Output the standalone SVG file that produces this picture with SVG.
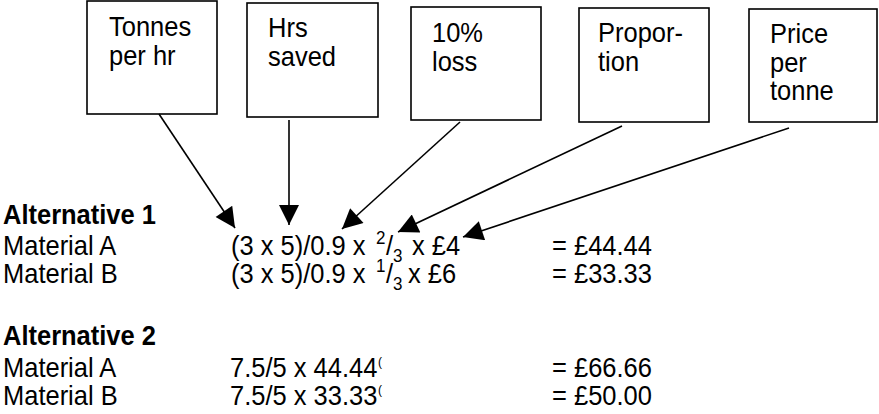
<svg xmlns="http://www.w3.org/2000/svg" width="879" height="414" viewBox="0 0 879 414">
<style>
  text { font-family: "Liberation Sans", Arial, sans-serif; font-size: 25.5px; fill: #000; }
  .b { font-weight: bold; }
  .sm { font-size: 17px; }
  .tiny { font-size: 12px; }
  .box { fill: #fff; stroke: #000; stroke-width: 1.6; }
  .c line { stroke: #000; stroke-width: 1.6; }
</style>
<defs>
  <marker id="ah" viewBox="0 0 10 10" refX="10" refY="5" markerWidth="25" markerHeight="20" markerUnits="userSpaceOnUse" orient="auto">
    <path d="M0,0 L10,5 L0,10 Z" fill="#000"/>
  </marker>
</defs>
<rect width="879" height="414" fill="#fff"/>

<g id="box-tonnes">
  <rect class="box" x="87" y="1" width="130" height="113"/>
  <text transform="matrix(1,0,0,1.08,109,36)">Tonnes</text>
  <text transform="matrix(1,0,0,1.08,109,65)">per hr</text>
</g>
<g id="box-hrs">
  <rect class="box" x="247" y="3" width="131" height="114"/>
  <text transform="matrix(1,0,0,1.08,268,37)">Hrs</text>
  <text transform="matrix(1,0,0,1.08,268,66)">saved</text>
</g>
<g id="box-loss">
  <rect class="box" x="411" y="7" width="130" height="113"/>
  <text transform="matrix(1,0,0,1.08,432,42)">10%</text>
  <text transform="matrix(1,0,0,1.08,432,71)">loss</text>
</g>
<g id="box-proportion">
  <rect class="box" x="579" y="8" width="130" height="114"/>
  <text transform="matrix(1,0,0,1.08,598,42)">Propor-</text>
  <text transform="matrix(1,0,0,1.08,598,71)">tion</text>
</g>
<g id="box-price">
  <rect class="box" x="749" y="9" width="128" height="113"/>
  <text transform="matrix(1,0,0,1.08,770,43)">Price</text>
  <text transform="matrix(1,0,0,1.08,770,72)">per</text>
  <text transform="matrix(1,0,0,1.08,770,100)">tonne</text>
</g>

<g class="c" id="connectors">
  <line x1="159" y1="114" x2="235" y2="228" marker-end="url(#ah)"/>
  <line x1="289" y1="120" x2="289" y2="225" marker-end="url(#ah)"/>
  <line x1="460" y1="122" x2="342" y2="229" marker-end="url(#ah)"/>
  <line x1="622" y1="126" x2="398" y2="232" marker-end="url(#ah)"/>
  <line x1="789" y1="128" x2="463" y2="237" marker-end="url(#ah)"/>
</g>

<g id="alternative-1">
  <text class="b" transform="matrix(1,0,0,1.08,3,224)">Alternative 1</text>
  <text transform="matrix(1,0,0,1.08,3,255)">Material A</text>
  <text transform="matrix(1,0,0,1.08,3,283)">Material B</text>
  <text transform="matrix(1,0,0,1.08,231,255)">(3 x 5)/0.9 x</text>
  <text class="sm" transform="matrix(1,0,0,1.08,376,244)">2</text>
  <text transform="matrix(1,0,0,1.08,386,255)">/</text>
  <text class="sm" transform="matrix(1,0,0,1.08,393,262)">3</text>
  <text transform="matrix(1,0,0,1.08,412,255)">x £4</text>
  <text transform="matrix(1,0,0,1.08,231,283)">(3 x 5)/0.9 x</text>
  <text class="sm" transform="matrix(1,0,0,1.08,376,272)">1</text>
  <text transform="matrix(1,0,0,1.08,386,283)">/</text>
  <text class="sm" transform="matrix(1,0,0,1.08,393,290)">3</text>
  <text transform="matrix(1,0,0,1.08,408,283)">x £6</text>
  <text transform="matrix(1,0,0,1.08,552,255)">= £44.44</text>
  <text transform="matrix(1,0,0,1.08,552,283)">= £33.33</text>
</g>

<g id="alternative-2">
  <text class="b" transform="matrix(1,0,0,1.08,3,345)">Alternative 2</text>
  <text transform="matrix(1,0,0,1.08,3,377)">Material A</text>
  <text transform="matrix(1,0,0,1.08,3,405)">Material B</text>
  <text transform="matrix(1,0,0,1.08,230,377)">7.5/5 x 44.44</text>
  <text class="tiny" transform="matrix(1,0,0,1.08,378,366)">(</text>
  <text transform="matrix(1,0,0,1.08,230,405)">7.5/5 x 33.33</text>
  <text class="tiny" transform="matrix(1,0,0,1.08,378,394)">(</text>
  <text transform="matrix(1,0,0,1.08,552,377)">= £66.66</text>
  <text transform="matrix(1,0,0,1.08,552,405)">= £50.00</text>
</g>
</svg>
